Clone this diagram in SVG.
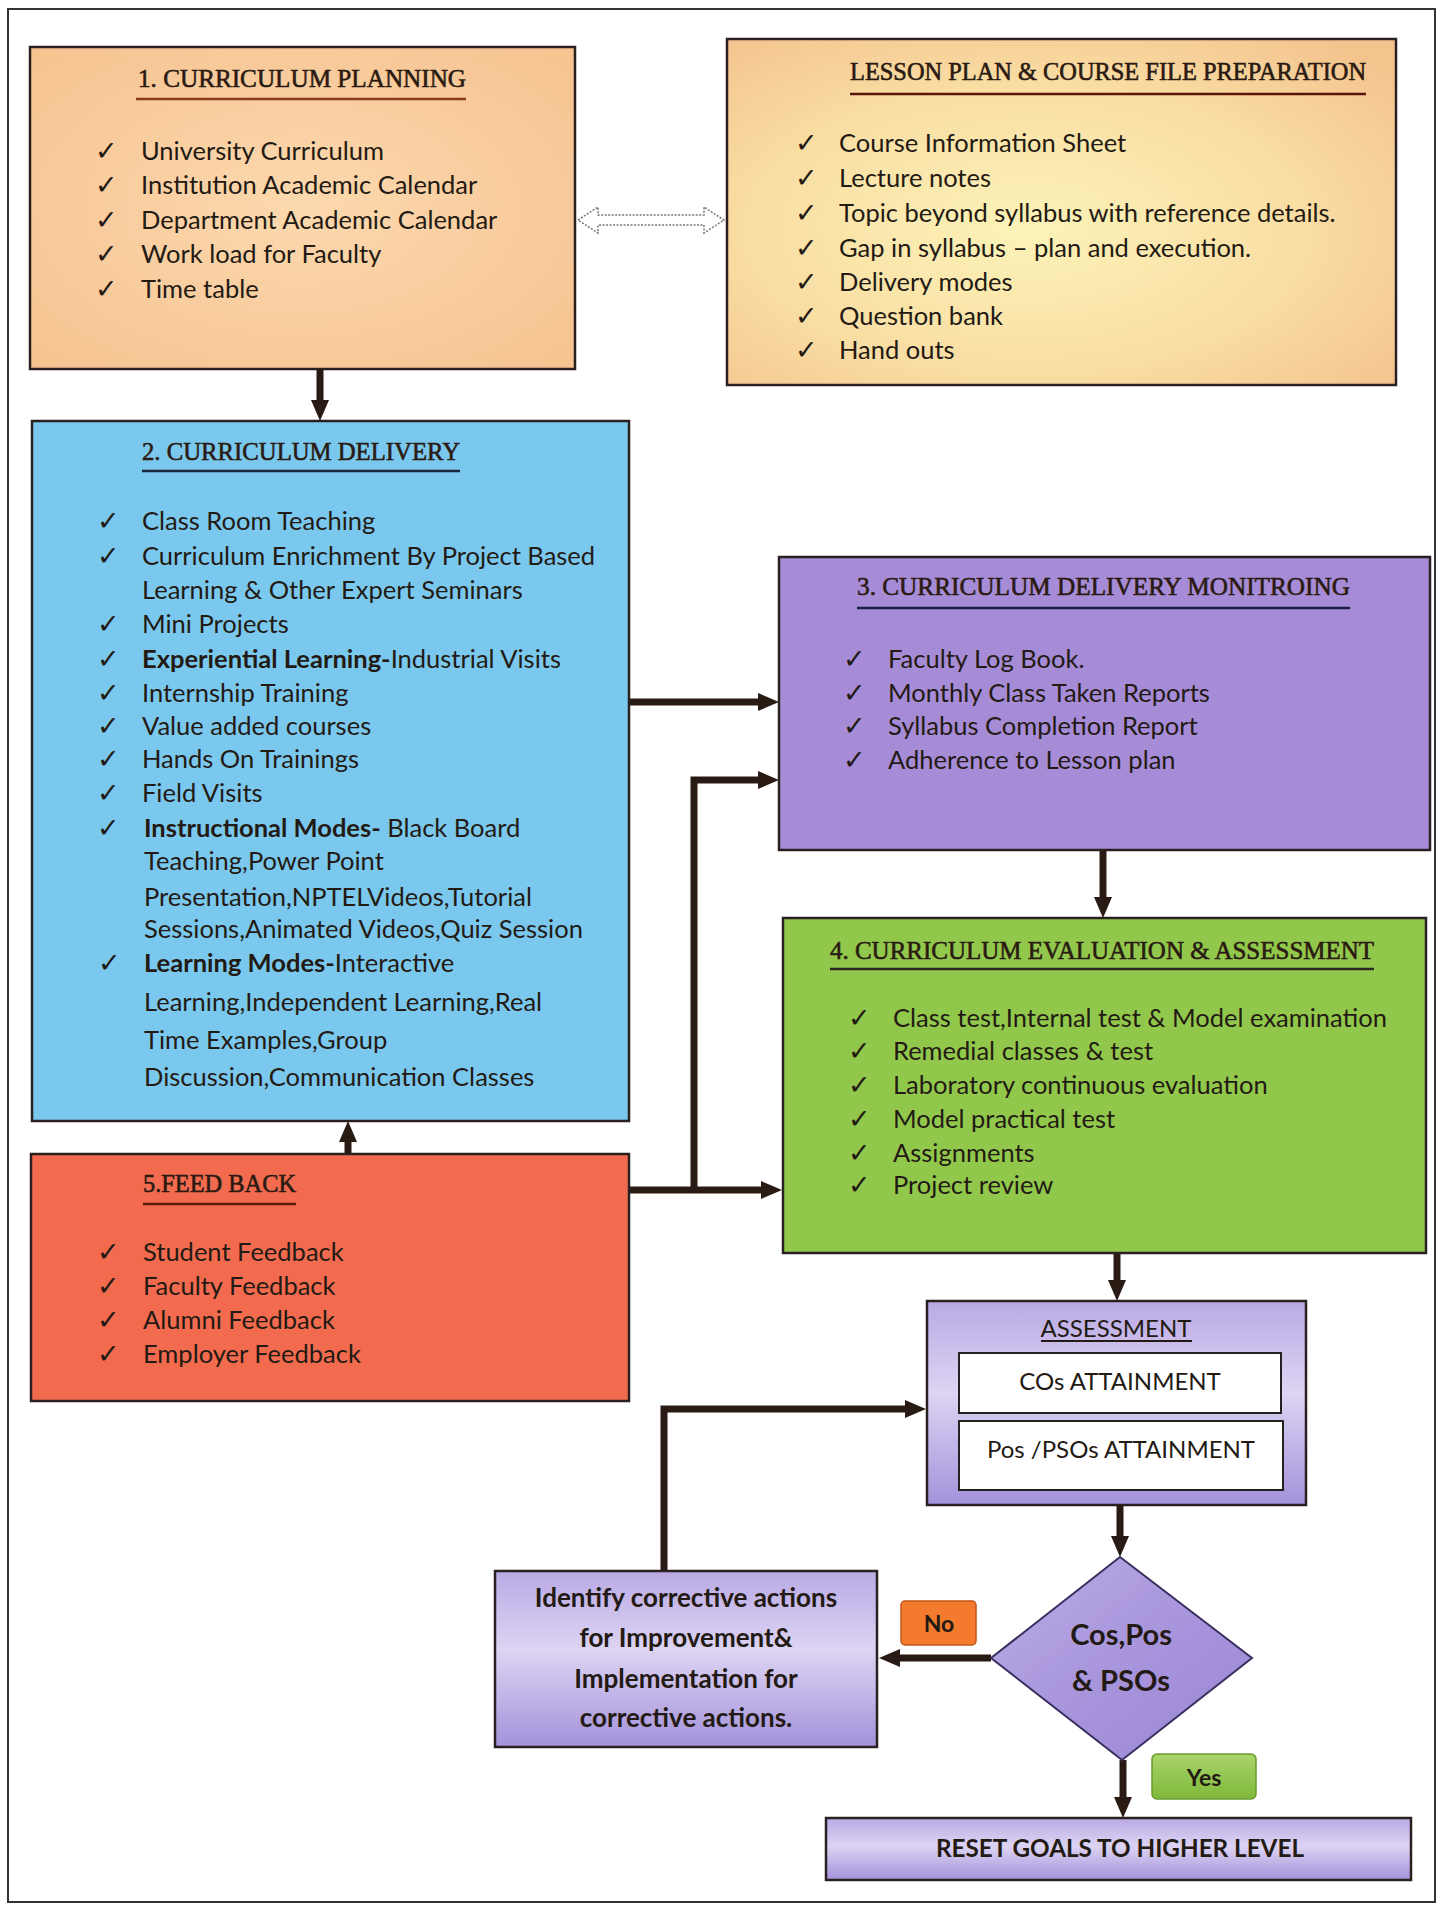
<svg xmlns="http://www.w3.org/2000/svg" width="1446" height="1910" viewBox="0 0 1446 1910">
<defs>
<style>
.t{font-family:Lato,"Liberation Sans",sans-serif;font-size:25.5px;fill:#231a14}
.b{font-weight:700}
.ck{font-family:"DejaVu Sans",sans-serif;font-size:27px;font-weight:700;fill:#231a14}
.h{font-family:"Liberation Serif",serif;font-size:26px;fill:#2a1a12;stroke:#2a1a12;stroke-width:0.6}
.box{stroke:#2a2020;stroke-width:2.5}
.ul{stroke-width:2.5}
.conn{fill:none;stroke:#2a1a14;stroke-width:7}
.c{text-anchor:middle}
</style>
<radialGradient id="gPeach" cx="50%" cy="50%" r="70%"><stop offset="0" stop-color="#fcd9ae"/><stop offset="1" stop-color="#f6c290"/></radialGradient>
<radialGradient id="gLP" cx="45%" cy="55%" r="70%"><stop offset="0" stop-color="#fcf3b8"/><stop offset="0.6" stop-color="#f9dda3"/><stop offset="1" stop-color="#f4c48f"/></radialGradient>
<linearGradient id="gPur" x1="0" y1="0" x2="0" y2="1"><stop offset="0" stop-color="#b9a9e4"/><stop offset="0.45" stop-color="#ddd4f3"/><stop offset="1" stop-color="#a391da"/></linearGradient>
<linearGradient id="gDia" x1="0" y1="0" x2="1" y2="1"><stop offset="0" stop-color="#bcaee6"/><stop offset="0.5" stop-color="#a895dc"/><stop offset="1" stop-color="#9b87d4"/></linearGradient>
<linearGradient id="gYes" x1="0" y1="0" x2="0" y2="1"><stop offset="0" stop-color="#a9d46a"/><stop offset="1" stop-color="#7fb83a"/></linearGradient>
<marker id="ah" markerUnits="userSpaceOnUse" markerWidth="22" markerHeight="20" refX="10" refY="9" orient="auto"><path d="M0,0 L21,9 L0,18 z" fill="#2a1a14"/></marker>
</defs>
<rect width="1446" height="1910" fill="#ffffff"/>
<rect x="8" y="9" width="1427" height="1893" fill="none" stroke="#333" stroke-width="2"/>

<g id="connectors">
<path class="conn" d="M320,369 V410" marker-end="url(#ah)"/>
<path class="conn" d="M630,702 H768" marker-end="url(#ah)"/>
<path class="conn" d="M630,1190 H771" marker-end="url(#ah)"/>
<path class="conn" d="M694,1190 V780 H768" marker-end="url(#ah)"/>
<path class="conn" d="M348,1154 V1132" marker-end="url(#ah)"/>
<path class="conn" d="M1103,850 V907" marker-end="url(#ah)"/>
<path class="conn" d="M1117,1253 V1290" marker-end="url(#ah)"/>
<path class="conn" d="M1120,1505 V1546" marker-end="url(#ah)"/>
<path class="conn" d="M991,1658 H890" marker-end="url(#ah)"/>
<path class="conn" d="M1123,1760 V1807" marker-end="url(#ah)"/>
<path class="conn" d="M664,1571 V1409 H915" marker-end="url(#ah)"/>
<polygon points="578,220 598,207 598,215 704,215 704,207 724,220 704,233 704,225 598,225 598,233" fill="#fff" stroke="#777" stroke-width="1.5" stroke-dasharray="2,1.5"/>
</g>

<g id="n1">
<rect class="box" x="30" y="47" width="545" height="322" fill="url(#gPeach)" stroke="#4a2412"/>
<text class="h" x="138" y="87" textLength="328" lengthAdjust="spacingAndGlyphs">1. CURRICULUM PLANNING</text>
<line class="ul" x1="136" y1="99" x2="466" y2="99" stroke="#8a3b1c"/>
<g class="ck"><text x="95" y="160">✓</text><text x="95" y="194">✓</text><text x="95" y="229">✓</text><text x="95" y="263">✓</text><text x="95" y="298">✓</text></g>
<g class="t" fill="#3a2212"><text x="141" y="160">University Curriculum</text><text x="141" y="194">Institution Academic Calendar</text><text x="141" y="229">Department Academic Calendar</text><text x="141" y="263">Work load for Faculty</text><text x="141" y="298">Time table</text></g>
</g>

<g id="n-lesson">
<rect class="box" x="727" y="39" width="669" height="346" fill="url(#gLP)"/>
<text class="h" x="850" y="80" textLength="516" lengthAdjust="spacingAndGlyphs" style="font-size:25px">LESSON PLAN &amp; COURSE FILE PREPARATION</text>
<line class="ul" x1="850" y1="94" x2="1366" y2="94" stroke="#5a1408"/>
<g class="ck"><text x="795" y="152">✓</text><text x="795" y="187">✓</text><text x="795" y="222">✓</text><text x="795" y="257">✓</text><text x="795" y="291">✓</text><text x="795" y="325">✓</text><text x="795" y="359">✓</text></g>
<g class="t"><text x="839" y="152">Course Information Sheet</text><text x="839" y="187">Lecture notes</text><text x="839" y="222">Topic beyond syllabus with reference details.</text><text x="839" y="257">Gap in syllabus – plan and execution.</text><text x="839" y="291">Delivery modes</text><text x="839" y="325">Question bank</text><text x="839" y="359">Hand outs</text></g>
</g>

<g id="n2">
<rect class="box" x="32" y="421" width="597" height="700" fill="#7ac8ed" stroke="#1c2838"/>
<text class="h" x="142" y="460" textLength="318" lengthAdjust="spacingAndGlyphs" fill="#161a33" stroke="#161a33">2. CURRICULUM DELIVERY</text>
<line class="ul" x1="142" y1="471" x2="460" y2="471" stroke="#1b2540"/>
<g class="ck"><text x="97" y="530">✓</text><text x="97" y="565">✓</text><text x="97" y="633">✓</text><text x="97" y="668">✓</text><text x="97" y="702">✓</text><text x="97" y="735">✓</text><text x="97" y="768">✓</text><text x="97" y="802">✓</text><text x="97" y="837">✓</text><text x="98" y="972">✓</text></g>
<g class="t">
<text x="142" y="530">Class Room Teaching</text>
<text x="142" y="565">Curriculum Enrichment By Project Based</text>
<text x="142" y="599">Learning &amp; Other Expert Seminars</text>
<text x="142" y="633">Mini Projects</text>
<text x="142" y="668"><tspan class="b">Experiential Learning-</tspan>Industrial Visits</text>
<text x="142" y="702">Internship Training</text>
<text x="142" y="735">Value added courses</text>
<text x="142" y="768">Hands On Trainings</text>
<text x="142" y="802">Field Visits</text>
<text x="144" y="837"><tspan class="b">Instructional Modes-</tspan> Black Board</text>
<text x="144" y="870">Teaching,Power Point</text>
<text x="144" y="906">Presentation,NPTELVideos,Tutorial</text>
<text x="144" y="938">Sessions,Animated Videos,Quiz Session</text>
<text x="144" y="972"><tspan class="b">Learning Modes-</tspan>Interactive</text>
<text x="144" y="1011">Learning,Independent Learning,Real</text>
<text x="144" y="1049">Time Examples,Group</text>
<text x="144" y="1086">Discussion,Communication Classes</text>
</g>
</g>

<g id="n5">
<rect class="box" x="31" y="1154" width="598" height="247" fill="#f26b4e" stroke="#6a2a1a"/>
<text class="h" x="143" y="1192" textLength="153" lengthAdjust="spacingAndGlyphs">5.FEED BACK</text>
<line class="ul" x1="143" y1="1204" x2="296" y2="1204" stroke="#5a1a10"/>
<g class="ck"><text x="97" y="1261">✓</text><text x="97" y="1295">✓</text><text x="97" y="1329">✓</text><text x="97" y="1363">✓</text></g>
<g class="t" fill="#2a1410"><text x="143" y="1261">Student Feedback</text><text x="143" y="1295">Faculty Feedback</text><text x="143" y="1329">Alumni Feedback</text><text x="143" y="1363">Employer Feedback</text></g>
</g>

<g id="n3">
<rect class="box" x="779" y="557" width="651" height="293" fill="#a68cd7" stroke="#2a2440"/>
<text class="h" x="857" y="595" textLength="493" lengthAdjust="spacingAndGlyphs" fill="#1e1a2e" stroke="#1e1a2e">3. CURRICULUM DELIVERY MONITROING</text>
<line class="ul" x1="857" y1="608" x2="1350" y2="608" stroke="#1e1e40"/>
<g class="ck"><text x="843" y="668">✓</text><text x="843" y="702">✓</text><text x="843" y="735">✓</text><text x="843" y="769">✓</text></g>
<g class="t" fill="#1e1a2a"><text x="888" y="668">Faculty Log Book.</text><text x="888" y="702">Monthly Class Taken Reports</text><text x="888" y="735">Syllabus Completion Report</text><text x="888" y="769">Adherence to Lesson plan</text></g>
</g>

<g id="n4">
<rect class="box" x="783" y="918" width="643" height="335" fill="#91c84c" stroke="#2a3020"/>
<text class="h" x="830" y="959" textLength="544" lengthAdjust="spacingAndGlyphs" fill="#1e2014" stroke="#1e2014">4. CURRICULUM EVALUATION &amp; ASSESSMENT</text>
<line class="ul" x1="830" y1="969" x2="1374" y2="969" stroke="#2a2a22"/>
<g class="ck"><text x="848" y="1027">✓</text><text x="848" y="1060">✓</text><text x="848" y="1094">✓</text><text x="848" y="1128">✓</text><text x="848" y="1162">✓</text><text x="848" y="1194">✓</text></g>
<g class="t" fill="#1e2414"><text x="893" y="1027">Class test,Internal test &amp; Model examination</text><text x="893" y="1060">Remedial classes &amp; test</text><text x="893" y="1094">Laboratory continuous evaluation</text><text x="893" y="1128">Model practical test</text><text x="893" y="1162">Assignments</text><text x="893" y="1194">Project review</text></g>
</g>

<g id="n-assessment">
<rect class="box" x="927" y="1301" width="379" height="204" fill="url(#gPur)" stroke="#3a3250"/>
<text class="t c" x="1116" y="1337" style="font-size:24px">ASSESSMENT</text>
<line x1="1041" y1="1341" x2="1192" y2="1341" stroke="#231a14" stroke-width="1.8"/>
<rect x="959" y="1353" width="322" height="60" fill="#fff" stroke="#222" stroke-width="2"/>
<text class="t c" x="1120" y="1390" style="font-size:24px">COs ATTAINMENT</text>
<rect x="959" y="1421" width="324" height="69" fill="#fff" stroke="#222" stroke-width="2"/>
<text class="t c" x="1121" y="1458" style="font-size:24px">Pos /PSOs ATTAINMENT</text>
</g>

<g id="n-decision">
<polygon points="1120,1557 1252,1658 1122,1760 991,1658" fill="url(#gDia)" stroke="#3a3060" stroke-width="2"/>
<text class="t b c" x="1121" y="1645" style="font-size:29px">Cos,Pos</text>
<text class="t b c" x="1121" y="1691" style="font-size:29px">&amp; PSOs</text>
</g>

<g id="n-corrective">
<rect class="box" x="495" y="1571" width="382" height="176" fill="url(#gPur)" stroke="#3a3250"/>
<g class="t b c" style="font-size:26px"><text x="686" y="1607">Identify corrective actions</text><text x="686" y="1647">for Improvement&amp;</text><text x="686" y="1688">Implementation for</text><text x="686" y="1727">corrective actions.</text></g>
</g>

<g id="n-no">
<rect x="901" y="1601" width="75" height="44" rx="4" fill="#f47b2e" stroke="#c2561a" stroke-width="1.5"/>
<text class="t b c" x="939" y="1632" style="font-size:23px">No</text>
</g>

<g id="n-yes">
<rect x="1152" y="1754" width="104" height="45" rx="5" fill="url(#gYes)" stroke="#6a9a30" stroke-width="1.5"/>
<text class="t b c" x="1204" y="1786" style="font-size:23px">Yes</text>
</g>

<g id="n-reset">
<rect class="box" x="826" y="1818" width="585" height="62" fill="url(#gPur)" stroke="#3a3250"/>
<text class="t b c" x="1120" y="1857" style="font-size:25px" textLength="368" lengthAdjust="spacingAndGlyphs">RESET GOALS TO HIGHER LEVEL</text>
</g>
</svg>
